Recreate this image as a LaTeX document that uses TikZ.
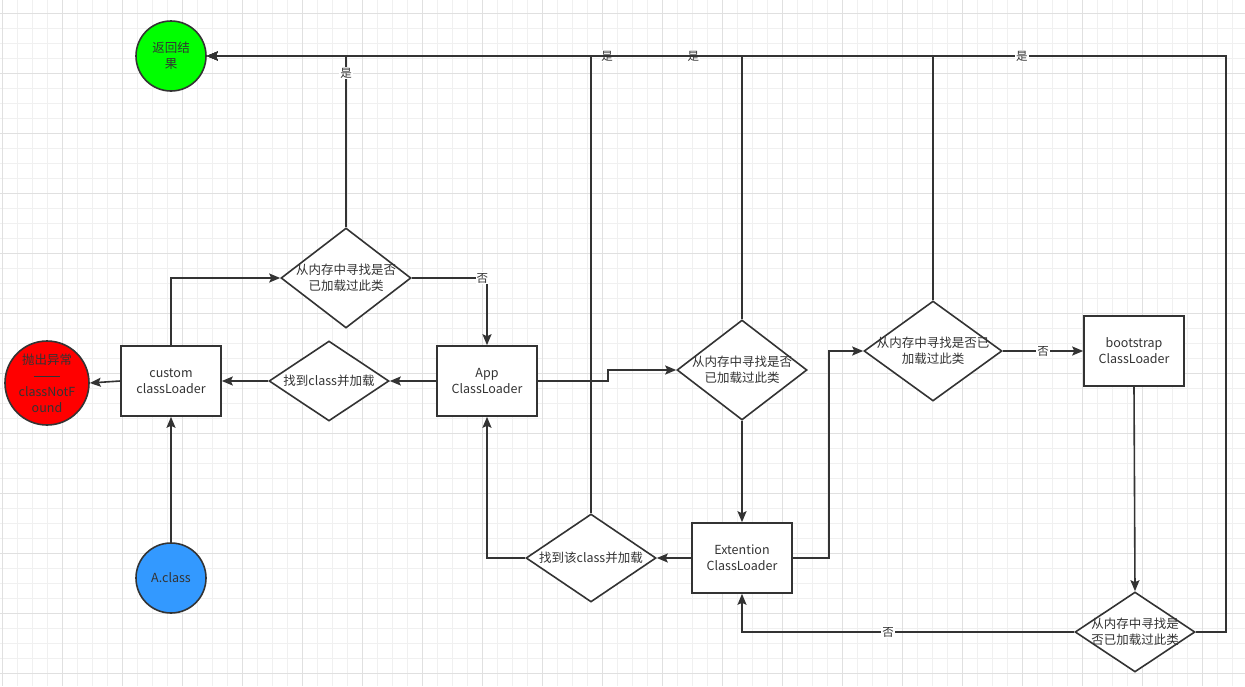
\documentclass[tikz,border=0pt]{standalone}
\usepackage{fontspec}
\setmainfont{Noto Sans CJK SC}
\usepackage{tikz}
\usetikzlibrary{positioning, arrows.meta, shapes.geometric}
\definecolor{linegray}{RGB}{51,51,51}
\definecolor{gridminor}{RGB}{240,240,240}
\definecolor{gridmajor}{RGB}{224,224,224}
\definecolor{okgreen}{RGB}{0,255,0}
\definecolor{errred}{RGB}{255,0,0}
\definecolor{startblue}{RGB}{51,153,255}

\begin{document}
\begin{tikzpicture}[x=1pt, y=-1pt,
  loader/.style={rectangle, draw=linegray, line width=1.6pt, fill=white,
                 minimum width=100pt, minimum height=70pt,
                 align=center, font=\fontsize{12.5}{16}\selectfont, text=linegray},
  chk/.style={diamond, draw=linegray, line width=1.6pt, fill=white,
              inner sep=0pt, minimum width=130pt, minimum height=100pt},
  endpt/.style={circle, draw=linegray, line width=1.6pt,
                inner sep=0pt, minimum size=70pt},
  txt/.style={align=center, font=\fontsize{12.5}{16}\selectfont,
              text=linegray, inner sep=0pt},
  arr/.style={-{Stealth[length=11pt, width=9pt, inset=2pt]},
              line width=1.6pt, draw=linegray},
  lbl/.style={fill=white, inner sep=1pt, font=\fontsize{11.5}{13}\selectfont,
              text=linegray}
]

% === Background grid =========================================================
\useasboundingbox (0,0) rectangle (1245,686);
\fill[white] (0,0) rectangle (1245,686);
\foreach \gx in {2.7,17.7,...,1245} \draw[gridminor, line width=0.9pt] (\gx,0) -- (\gx,686);
\foreach \gy in {13.3,28.3,...,686} \draw[gridminor, line width=0.9pt] (0,\gy) -- (1245,\gy);
\foreach \gx in {2.7,62.7,...,1245} \draw[gridmajor, line width=0.9pt] (\gx,0) -- (\gx,686);
\foreach \gy in {13.3,73.3,...,686} \draw[gridmajor, line width=0.9pt] (0,\gy) -- (1245,\gy);

% === Start / end points ======================================================
\node[endpt, fill=okgreen]                (ret)    at (171,  56)
     [label={[txt]center:返回结\\果}] {};
\node[endpt, fill=errred, minimum size=84pt] (err) at (47,  383)
     [label={[txt, font=\fontsize{12.5}{16}\selectfont]center:抛出异常\\\rule[3pt]{27pt}{1.2pt}\\classNotF\\ound}] {};
\node[endpt, fill=startblue]              (aclass) at (171, 578)
     [label={[txt]center:A.class}] {};

% === Class loaders ===========================================================
\node[loader]                             (custom) at (171, 381) {custom\\classLoader};
\node[loader]                             (app)    at (487, 381) {App\\ClassLoader};
\node[loader]                             (ext)    at (742, 558) {Extention\\ClassLoader};
\node[loader]                             (boot)   at (1134,351) {bootstrap\\ClassLoader};

% === Lookups =================================================================
\node[chk]                                (chk1)   at (346, 278)
     [label={[txt]center:从内存中寻找是否\\已加载过此类}] {};
\node[chk]                                (chk2)   at (742, 370)
     [label={[txt]center:从内存中寻找是否\\已加载过此类}] {};
\node[chk, minimum width=138pt]           (chk3)   at (933, 351)
     [label={[txt]center:从内存中寻找是否已\\加载过此类}] {};
\node[chk, minimum width=120pt, minimum height=80pt] (chk4) at (1135,632)
     [label={[txt]center:从内存中寻找是\\否已加载过此类}] {};
\node[chk, minimum width=120pt, minimum height=80pt] (found1) at (329, 381)
     [label={[txt]center:找到class并加载}] {};
\node[chk, minimum width=130pt, minimum height=88pt] (found2) at (591, 558)
     [label={[txt]center:找到该class并加载}] {};

% === Connectors ==============================================================
\draw[arr] (aclass.north) -- (custom.south);
\draw[arr] (custom.west) -- (err.east);
\draw[arr] (custom.north) |- (chk1.west);
\draw[arr] (chk1.north) |- node[lbl, pos=0.45]{是} (ret.east);
\draw[arr] (chk1.east) -| node[lbl, pos=0.47]{否} (app.north);
\draw[arr] (app.west) -- (found1.east);
\draw[arr] (found1.west) -- (custom.east);
\draw[arr] (app.east) -- ++(70,0) |- (chk2.west);
\draw[arr] (chk2.north) |- node[lbl, pos=0.626]{是} (ret.east);
\draw[arr] (chk2.south) -- (ext.north);
\draw[arr] (ext.west) -- (found2.east);
\draw[arr] (found2.west) -| (app.south);
\draw[arr] (found2.north) |- (ret.east);
\draw[arr] (ext.east) -- ++(36,0) |- (chk3.west);
\draw[arr] (chk3.north) |- node[lbl, pos=0.665]{是} (ret.east);
\draw[arr] (chk3.east) -- node[lbl]{否} (boot.west);
\draw[arr] (boot.south) -- (chk4.north);
\draw[arr] (chk4.east) -- ++(30,0) |- node[lbl, pos=0.6]{是} (ret.east);
\draw[arr] (chk4.west) -| node[lbl, pos=0.28]{否} (ext.south);

\end{tikzpicture}
\end{document}
